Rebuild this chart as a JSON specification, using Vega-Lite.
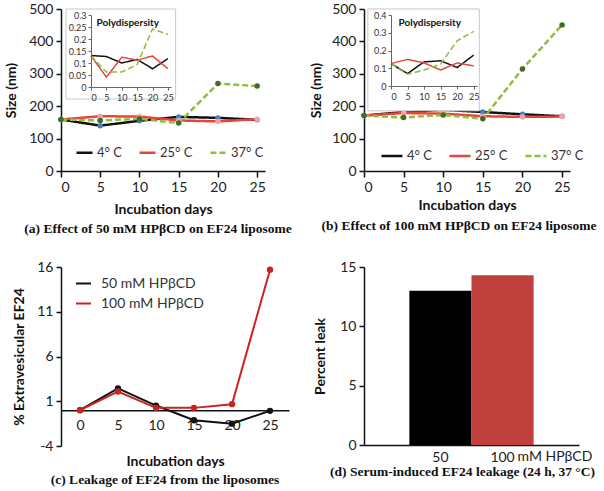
{
  "$schema": "https://vega.github.io/schema/vega-lite/v6.json",
  "background": "white",
  "padding": {"left": 4, "top": 2, "right": 0, "bottom": 0},
  "config": {
    "view": {"stroke": null},
    "font": "Lato",
    "axis": {"domainColor": "#111", "domainWidth": 1.5, "tickColor": "#111", "tickWidth": 1.5, "tickSize": 5, "labelColor": "#222", "labelFontSize": 14, "labelFont": "Lato", "titleFont": "Lato", "titleFontSize": 14, "titleFontWeight": "bold", "titleColor": "#111", "grid": false, "labelPadding": 3, "labelOverlap": false},
    "legend": {"padding": 0, "labelFont": "Lato", "labelColor": "#333"},
    "title": {"font": "Liberation Serif", "fontSize": 13.5, "fontWeight": "bold", "orient": "bottom", "anchor": "middle", "color": "#111", "offset": 6}
  },
  "datasets": {
    "sizeA": [
      {"day": 0, "temp": "4° C", "size": 159}, {"day": 5, "temp": "4° C", "size": 140}, {"day": 10, "temp": "4° C", "size": 155}, {"day": 15, "temp": "4° C", "size": 167}, {"day": 20, "temp": "4° C", "size": 164}, {"day": 25, "temp": "4° C", "size": 158},
      {"day": 0, "temp": "25° C", "size": 159}, {"day": 5, "temp": "25° C", "size": 169}, {"day": 10, "temp": "25° C", "size": 168}, {"day": 15, "temp": "25° C", "size": 156}, {"day": 20, "temp": "25° C", "size": 153}, {"day": 25, "temp": "25° C", "size": 160},
      {"day": 0, "temp": "37° C", "size": 159}, {"day": 5, "temp": "37° C", "size": 156}, {"day": 10, "temp": "37° C", "size": 161}, {"day": 15, "temp": "37° C", "size": 148}, {"day": 20, "temp": "37° C", "size": 270}, {"day": 25, "temp": "37° C", "size": 262}
    ],
    "pdiA": [
      {"day": 0, "temp": "4° C", "pdi": 0.131}, {"day": 5, "temp": "4° C", "pdi": 0.127}, {"day": 10, "temp": "4° C", "pdi": 0.1}, {"day": 15, "temp": "4° C", "pdi": 0.115}, {"day": 20, "temp": "4° C", "pdi": 0.076}, {"day": 25, "temp": "4° C", "pdi": 0.118},
      {"day": 0, "temp": "25° C", "pdi": 0.13}, {"day": 5, "temp": "25° C", "pdi": 0.041}, {"day": 10, "temp": "25° C", "pdi": 0.124}, {"day": 15, "temp": "25° C", "pdi": 0.112}, {"day": 20, "temp": "25° C", "pdi": 0.129}, {"day": 25, "temp": "25° C", "pdi": 0.076},
      {"day": 0, "temp": "37° C", "pdi": 0.13}, {"day": 5, "temp": "37° C", "pdi": 0.062}, {"day": 10, "temp": "37° C", "pdi": 0.062}, {"day": 15, "temp": "37° C", "pdi": 0.094}, {"day": 20, "temp": "37° C", "pdi": 0.242}, {"day": 25, "temp": "37° C", "pdi": 0.219}
    ],
    "sizeB": [
      {"day": 0, "temp": "4° C", "size": 171}, {"day": 5, "temp": "4° C", "size": 182}, {"day": 10, "temp": "4° C", "size": 189}, {"day": 15, "temp": "4° C", "size": 182}, {"day": 20, "temp": "4° C", "size": 175}, {"day": 25, "temp": "4° C", "size": 169},
      {"day": 0, "temp": "25° C", "size": 171}, {"day": 5, "temp": "25° C", "size": 179}, {"day": 10, "temp": "25° C", "size": 177}, {"day": 15, "temp": "25° C", "size": 169}, {"day": 20, "temp": "25° C", "size": 167}, {"day": 25, "temp": "25° C", "size": 168},
      {"day": 0, "temp": "37° C", "size": 171}, {"day": 5, "temp": "37° C", "size": 165}, {"day": 10, "temp": "37° C", "size": 173}, {"day": 15, "temp": "37° C", "size": 161}, {"day": 20, "temp": "37° C", "size": 315}, {"day": 25, "temp": "37° C", "size": 451}
    ],
    "pdiB": [
      {"day": 0, "temp": "4° C", "pdi": 0.126}, {"day": 5, "temp": "4° C", "pdi": 0.07}, {"day": 10, "temp": "4° C", "pdi": 0.136}, {"day": 15, "temp": "4° C", "pdi": 0.142}, {"day": 20, "temp": "4° C", "pdi": 0.104}, {"day": 25, "temp": "4° C", "pdi": 0.174},
      {"day": 0, "temp": "25° C", "pdi": 0.126}, {"day": 5, "temp": "25° C", "pdi": 0.15}, {"day": 10, "temp": "25° C", "pdi": 0.13}, {"day": 15, "temp": "25° C", "pdi": 0.09}, {"day": 20, "temp": "25° C", "pdi": 0.13}, {"day": 25, "temp": "25° C", "pdi": 0.113},
      {"day": 0, "temp": "37° C", "pdi": 0.126}, {"day": 5, "temp": "37° C", "pdi": 0.066}, {"day": 10, "temp": "37° C", "pdi": 0.09}, {"day": 15, "temp": "37° C", "pdi": 0.123}, {"day": 20, "temp": "37° C", "pdi": 0.255}, {"day": 25, "temp": "37° C", "pdi": 0.308}
    ],
    "leak": [
      {"day": 0, "conc": "50 mM HPβCD", "pct": 0}, {"day": 5, "conc": "50 mM HPβCD", "pct": 2.43}, {"day": 10, "conc": "50 mM HPβCD", "pct": 0.52}, {"day": 15, "conc": "50 mM HPβCD", "pct": -1.12}, {"day": 20, "conc": "50 mM HPβCD", "pct": -1.5}, {"day": 25, "conc": "50 mM HPβCD", "pct": -0.07},
      {"day": 0, "conc": "100 mM HPβCD", "pct": 0}, {"day": 5, "conc": "100 mM HPβCD", "pct": 2.09}, {"day": 10, "conc": "100 mM HPβCD", "pct": 0.26}, {"day": 15, "conc": "100 mM HPβCD", "pct": 0.26}, {"day": 20, "conc": "100 mM HPβCD", "pct": 0.67}, {"day": 25, "conc": "100 mM HPβCD", "pct": 15.7}
    ],
    "serum": [
      {"conc": "50", "leak": 13.0},
      {"conc": "100", "leak": 14.3}
    ]
  },
  "columns": 2,
  "spacing": {"row": 96, "column": 75},
  "bounds": "flush",
  "align": "each",
  "resolve": {
    "scale": {"color": "independent", "fill": "independent", "strokeDash": "independent", "x": "independent", "y": "independent"},
    "legend": {"color": "independent", "fill": "independent", "strokeDash": "independent"}
  },
  "concat": [
    {
      "width": 204, "height": 162,
      "title": {"text": "(a) Effect of 50 mM HPβCD on EF24 liposome", "offset": 6, "dx": -5},
      "resolve": {"scale": {"x": "independent", "y": "independent"}},
      "layer": [
        {
          "data": {"name": "sizeA"},
          "layer": [
            {
              "mark": {"type": "line", "strokeWidth": 2.5},
              "encoding": {
                "x": {"field": "day", "type": "quantitative", "scale": {"domain": [0, 25]}, "axis": {"values": [0, 5, 10, 15, 20, 25], "tickCount": 30, "format": "d", "title": "Incubation days", "tickSize": 6, "titlePadding": 8}},
                "y": {"field": "size", "type": "quantitative", "scale": {"domain": [0, 500]}, "axis": {"values": [0, 100, 200, 300, 400, 500], "tickCount": 30, "format": "d", "title": "Size (nm)", "titlePadding": 10}},
                "color": {"field": "temp", "type": "nominal", "scale": {"domain": ["4° C", "25° C", "37° C"], "range": ["#111111", "#e8443a", "#8fbf3a"]},
                  "legend": {"orient": "none", "legendX": 14, "legendY": 134, "direction": "horizontal", "title": null, "symbolType": "stroke", "symbolSize": 256, "symbolStrokeWidth": 2.5, "labelFontSize": 13, "columnPadding": 12, "labelOffset": 3}},
                "strokeDash": {"field": "temp", "type": "nominal", "scale": {"domain": ["4° C", "25° C", "37° C"], "range": [[1, 0], [1, 0], [6, 3]]},
                  "legend": {"orient": "none", "legendX": 14, "legendY": 134, "direction": "horizontal", "title": null, "symbolType": "stroke", "symbolSize": 256, "symbolStrokeWidth": 2.5, "labelFontSize": 13, "columnPadding": 12, "labelOffset": 3}}
              }
            },
            {
              "mark": {"type": "point", "filled": true, "size": 30, "opacity": 1},
              "encoding": {
                "x": {"field": "day", "type": "quantitative"},
                "y": {"field": "size", "type": "quantitative"},
                "fill": {"field": "temp", "type": "nominal", "scale": {"domain": ["37° C", "25° C", "4° C"], "range": ["#3f6b22", "#f2a3a3", "#4a7fc1"]}, "legend": null}
              }
            }
          ]
        },
        {
          "layer": [
            {
              "data": {"values": [{}]},
              "mark": {"type": "rect", "fill": "white", "stroke": "#c8c8c8", "strokeWidth": 1},
              "encoding": {
                "x": {"datum": -8.1, "type": "quantitative"}, "x2": {"datum": 27.5},
                "y": {"datum": -0.05, "type": "quantitative"}, "y2": {"datum": 0.325}
              }
            },
            {
              "data": {"name": "pdiA"},
              "mark": {"type": "line", "strokeWidth": 1.5},
              "encoding": {
                "x": {"field": "day", "type": "quantitative", "scale": {"domain": [0, 25], "range": [30, 110]},
                  "axis": {"orient": "bottom", "offset": -84, "zindex": 1, "values": [0, 5, 10, 15, 20, 25], "tickCount": 30, "format": "d", "labelFontSize": 9, "tickSize": 3, "tickWidth": 1, "domainWidth": 1, "domainColor": "#666", "tickColor": "#666", "labelColor": "#333", "title": null, "labelPadding": 3}},
                "y": {"field": "pdi", "type": "quantitative", "scale": {"domain": [0, 0.3], "range": [78, 6]},
                  "axis": {"orient": "left", "offset": -30, "zindex": 1, "values": [0, 0.05, 0.1, 0.15, 0.2, 0.25, 0.3], "tickCount": 30, "format": "~g", "labelFontSize": 9, "tickSize": 3, "tickWidth": 1, "domainWidth": 1, "domainColor": "#666", "tickColor": "#666", "labelColor": "#333", "labelPadding": 2,
                    "title": "Polydispersity", "titleAngle": 0, "titleX": 5, "titleY": 13, "titleAlign": "left", "titleBaseline": "middle", "titleFontSize": 10}},
                "color": {"field": "temp", "type": "nominal"},
                "strokeDash": {"field": "temp", "type": "nominal"}
              }
            }
          ]
        }
      ]
    },
    {
      "width": 206, "height": 162,
      "title": {"text": "(b) Effect of 100 mM HPβCD on EF24 liposome", "offset": 7, "dx": -8},
      "resolve": {"scale": {"x": "independent", "y": "independent"}},
      "layer": [
        {
          "data": {"name": "sizeB"},
          "layer": [
            {
              "mark": {"type": "line", "strokeWidth": 2.5},
              "encoding": {
                "x": {"field": "day", "type": "quantitative", "scale": {"domain": [0, 25]}, "axis": {"values": [0, 5, 10, 15, 20, 25], "tickCount": 30, "format": "d", "title": "Incubation days", "tickSize": 6, "titlePadding": 4}},
                "y": {"field": "size", "type": "quantitative", "scale": {"domain": [0, 500]}, "axis": {"values": [0, 100, 200, 300, 400, 500], "tickCount": 30, "format": "d", "title": "Size (nm)", "titlePadding": 8}},
                "color": {"field": "temp", "type": "nominal", "scale": {"domain": ["4° C", "25° C", "37° C"], "range": ["#111111", "#e8443a", "#8fbf3a"]},
                  "legend": {"orient": "none", "legendX": 16, "legendY": 135, "direction": "horizontal", "title": null, "symbolType": "stroke", "symbolSize": 441, "symbolStrokeWidth": 2.5, "labelFontSize": 13, "columnPadding": 12, "labelOffset": 3}},
                "strokeDash": {"field": "temp", "type": "nominal", "scale": {"domain": ["4° C", "25° C", "37° C"], "range": [[1, 0], [1, 0], [6, 3]]},
                  "legend": {"orient": "none", "legendX": 16, "legendY": 135, "direction": "horizontal", "title": null, "symbolType": "stroke", "symbolSize": 441, "symbolStrokeWidth": 2.5, "labelFontSize": 13, "columnPadding": 12, "labelOffset": 3}}
              }
            },
            {
              "mark": {"type": "point", "filled": true, "size": 30, "opacity": 1},
              "encoding": {
                "x": {"field": "day", "type": "quantitative"},
                "y": {"field": "size", "type": "quantitative"},
                "fill": {"field": "temp", "type": "nominal", "scale": {"domain": ["37° C", "25° C", "4° C"], "range": ["#3f6b22", "#f2a3a3", "#4a7fc1"]}, "legend": null}
              }
            }
          ]
        },
        {
          "layer": [
            {
              "data": {"values": [{}]},
              "mark": {"type": "rect", "fill": "white", "stroke": "#c8c8c8", "strokeWidth": 1},
              "encoding": {
                "x": {"datum": -7, "type": "quantitative"}, "x2": {"datum": 26.7},
                "y": {"datum": -0.14, "type": "quantitative"}, "y2": {"datum": 0.434}
              }
            },
            {
              "data": {"name": "pdiB"},
              "mark": {"type": "line", "strokeWidth": 1.5},
              "encoding": {
                "x": {"field": "day", "type": "quantitative", "scale": {"domain": [0, 25], "range": [27, 113]},
                  "axis": {"orient": "bottom", "offset": -85, "zindex": 1, "values": [0, 5, 10, 15, 20, 25], "tickCount": 30, "format": "d", "labelFontSize": 9, "tickSize": 3, "tickWidth": 1, "domainWidth": 1, "domainColor": "#666", "tickColor": "#666", "labelColor": "#333", "title": null, "labelPadding": 3}},
                "y": {"field": "pdi", "type": "quantitative", "scale": {"domain": [0, 0.4], "range": [77, 6]},
                  "axis": {"orient": "left", "offset": -27, "zindex": 1, "values": [0, 0.1, 0.2, 0.3, 0.4], "tickCount": 30, "format": "~g", "labelFontSize": 9, "tickSize": 3, "tickWidth": 1, "domainWidth": 1, "domainColor": "#666", "tickColor": "#666", "labelColor": "#333", "labelPadding": 2,
                    "title": "Polydispersity", "titleAngle": 0, "titleX": 7, "titleY": 13, "titleAlign": "left", "titleBaseline": "middle", "titleFontSize": 10}},
                "color": {"field": "temp", "type": "nominal"},
                "strokeDash": {"field": "temp", "type": "nominal"}
              }
            }
          ]
        }
      ]
    },
    {
      "width": 228, "height": 179,
      "title": {"text": "(c) Leakage of EF24 from the liposomes", "dx": -10, "offset": 5},
      "data": {"name": "leak"},
      "layer": [
        {
          "mark": {"type": "line", "strokeWidth": 2},
          "encoding": {
            "x": {"field": "day", "type": "quantitative", "scale": {"domain": [-2.5, 27.5], "nice": false}, "axis": {"values": [0, 5, 10, 15, 20, 25], "tickCount": 30, "format": "d", "ticks": false, "offset": -35.8, "labelPadding": 8, "title": "Incubation days", "titleY": 44, "titleBaseline": "top"}},
            "y": {"field": "pct", "type": "quantitative", "scale": {"domain": [-4, 16], "nice": false}, "axis": {"values": [-4, 1, 6, 11, 16], "tickCount": 30, "labelExpr": "replace(format(datum.value, 'd'), '−', '-')", "title": "% Extravesicular EF24", "titlePadding": 10}},
            "color": {"field": "conc", "type": "nominal", "scale": {"domain": ["50 mM HPβCD", "100 mM HPβCD"], "range": ["#111111", "#cc2222"]},
              "legend": {"orient": "none", "legendX": 14, "legendY": 8, "direction": "vertical", "title": null, "symbolType": "stroke", "symbolSize": 225, "symbolStrokeWidth": 2, "labelFontSize": 14, "labelOffset": 9, "rowPadding": 4}}
          }
        },
        {
          "mark": {"type": "point", "filled": true, "size": 40, "opacity": 1},
          "encoding": {
            "x": {"field": "day", "type": "quantitative"},
            "y": {"field": "pct", "type": "quantitative"},
            "fill": {"field": "conc", "type": "nominal", "scale": {"domain": ["100 mM HPβCD", "50 mM HPβCD"], "range": ["#cc2222", "#111111"]}, "legend": null}
          }
        }
      ]
    },
    {
      "width": 215, "height": 178,
      "title": {"text": "(d) Serum-induced EF24 leakage (24 h, 37 °C)", "offset": 1, "dx": -9},
      "data": {"name": "serum"},
      "mark": {"type": "bar"},
      "encoding": {
        "x": {"field": "conc", "type": "nominal", "sort": ["50", "100"], "scale": {"paddingInner": 0, "paddingOuter": 0.73},
          "axis": {"labelAngle": 0, "ticks": false, "labelPadding": 5, "title": "mM HPβCD", "titleFontWeight": "normal", "titleColor": "#222", "titleX": 153, "titleY": 11, "titleAlign": "left", "titleBaseline": "middle"}},
        "y": {"field": "leak", "type": "quantitative", "scale": {"domain": [0, 15], "nice": false}, "axis": {"values": [0, 5, 10, 15], "tickCount": 30, "format": "d", "title": "Percent leak", "titlePadding": 12}},
        "color": {"field": "conc", "type": "nominal", "scale": {"domain": ["50", "100"], "range": ["#000000", "#c0403e"]}, "legend": null}
      }
    }
  ]
}
